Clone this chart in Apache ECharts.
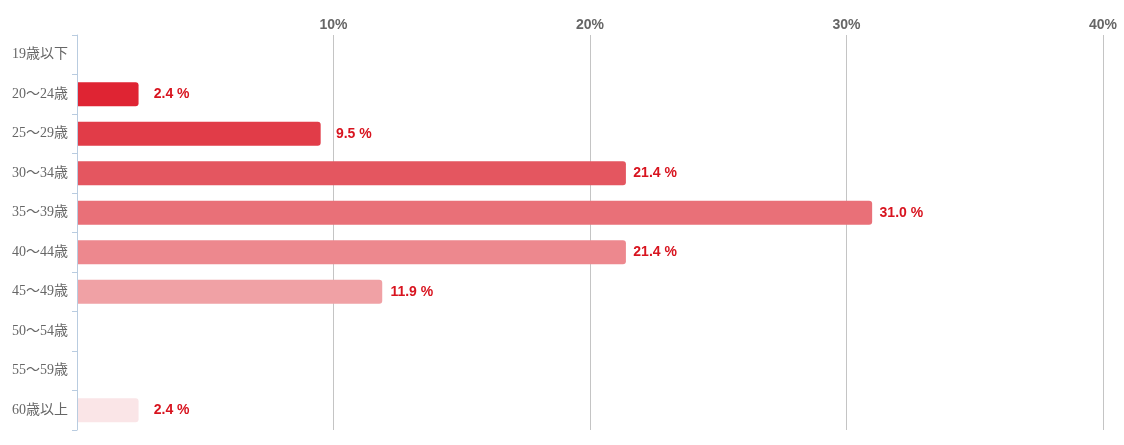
<!DOCTYPE html>
<html>
<head>
<meta charset="utf-8">
<script src="https://cdn.jsdelivr.net/npm/echarts@6/dist/echarts.min.js"></script>
<style>html,body{margin:0;padding:0;background:#fff;}#c{width:1124px;height:445px;}</style>
</head>
<body>
<div id="c"></div>
<script>
const categories = ['19歳以下','20〜24歳','25〜29歳','30〜34歳','35〜39歳','40〜44歳','45〜49歳','50〜54歳','55〜59歳','60歳以上'];
const values = [null, 2.4, 9.5, 21.4, 31.0, 21.4, 11.9, null, null, 2.4];
const barColors = ['#dc2030','#df2433','#e13c48','#e45660','#e97078','#ed888e','#f0a1a5','#f3b9bc','#f6cfd1','#fae5e7'];
const xTicks = [0, 10, 20, 30, 40];

const chart = echarts.init(document.getElementById('c'));
chart.setOption({
  animation: false,
  grid: { left: 77, right: 21, top: 35, bottom: 15, containLabel: false },
  xAxis: {
    type: 'value', position: 'top', min: 0, max: 40, interval: 10,
    axisLine: { show: false }, axisTick: { show: false },
    axisLabel: {
      margin: 3, color: '#666', fontWeight: 'bold', fontSize: 14, fontFamily: 'Liberation Sans, Arial, sans-serif',
      formatter: v => (v === xTicks[0] ? '' : v + '%')
    },
    splitLine: { show: true, showMinLine: false, lineStyle: { color: '#c4c4c4', width: 1 } }
  },
  yAxis: {
    type: 'category', inverse: true, data: categories, z: 10,
    axisLine: { show: true, onZero: false, lineStyle: { color: '#b9cce0', width: 1 } },
    axisTick: { show: true, length: 5, lineStyle: { color: '#b9cce0' } },
    axisLabel: { color: '#666', fontSize: 14, margin: 9, fontFamily: 'Liberation Serif, Noto Sans CJK JP, serif' },
    splitLine: { show: false }
  },
  series: [{
    type: 'bar',
    barWidth: 24,
    data: values.map((v, i) => ({ value: v, itemStyle: { color: barColors[i] } })),
    itemStyle: { borderRadius: [0, 3, 3, 0] },
    label: {
      show: true, position: 'right', distance: 51, align: 'right',
      color: '#d8141f', fontWeight: 'bold', fontSize: 14, fontFamily: 'Liberation Sans, Arial, sans-serif',
      formatter: p => (p.value == null ? '' : p.value.toFixed(1) + ' %')
    }
  }]
});
</script>
</body>
</html>
